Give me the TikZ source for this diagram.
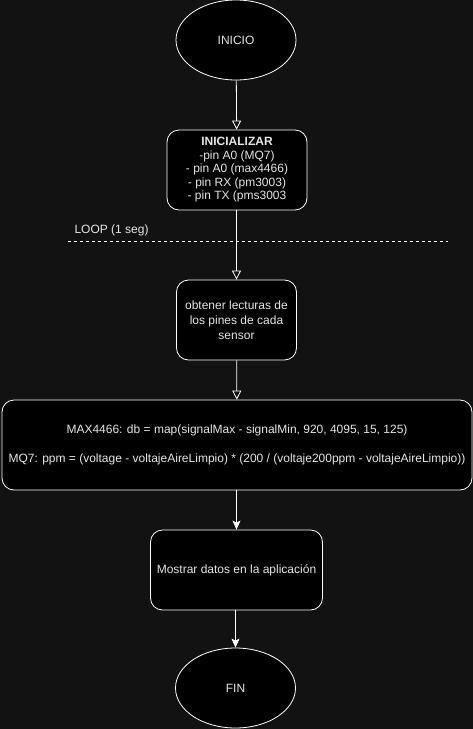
\documentclass[tikz,border=0pt]{standalone}
\usepackage{fontspec}
\setmainfont{Liberation Sans}
\usetikzlibrary{arrows.meta,shapes.geometric}
\definecolor{bg}{HTML}{121212}
\definecolor{txt}{HTML}{E6E6E6}
\begin{document}
\begin{tikzpicture}[x=1pt,y=-1pt,
  every node/.style={font=\fontsize{12}{13.5}\selectfont, text=txt},
  term/.style={ellipse, draw=white, fill=black, line width=0.8pt, minimum width=120pt, minimum height=80pt, inner sep=0pt},
  proc/.style={rectangle, rounded corners=12pt, draw=white, fill=black, line width=0.8pt, inner sep=0pt, align=center},
  openarr/.style={draw=white, line width=0.8pt, -{Triangle[open, length=9pt, width=9pt, fill=bg]}},
  fillarr/.style={draw=white, line width=0.8pt, -{Stealth[length=9pt, width=8pt, inset=2pt]}}
]
\fill[bg] (0,0) rectangle (473,729);
\useasboundingbox (0,0) rectangle (473,729);

\node[term] (inicio) at (236,40) {INICIO};
\node[proc, minimum width=140pt, minimum height=80pt] (init) at (237,170)
  {\textbf{INICIALIZAR}\\-pin A0 (MQ7)\\- pin A0 (max4466)\\- pin RX (pm3003)\\- pin TX (pms3003};
\node[anchor=base west] (loop) at (71,233) {LOOP (1 seg)};
\coordinate (dl) at (68,241);
\coordinate (dr) at (448,241);
\draw[white, dashed, line width=0.8pt, dash pattern=on 3pt off 3pt] (dl) -- (dr);
\node[proc, minimum width=120pt, minimum height=80pt, font=\fontsize{12}{15}\selectfont] (lect) at (236.5,320)
  {obtener lecturas de\\los pines de cada\\sensor};
\node[proc, minimum width=470pt, minimum height=90pt] (calc) at (237,445)
  {MAX4466: db = map(signalMax - signalMin, 920, 4095, 15, 125)\\[15pt]MQ7: ppm = (voltage - voltajeAireLimpio) * (200 / (voltaje200ppm - voltajeAireLimpio))};
\node[proc, minimum width=172pt, minimum height=80pt] (show) at (236.5,570)
  {Mostrar datos en la aplicación};
\node[term] (fin) at (235.5,688) {FIN};

\draw[openarr] (inicio) -- (init);
\draw[openarr] (init.south -| lect.north) -- (lect.north);
\draw[openarr] (lect) -- (calc);
\draw[fillarr] (calc.south -| show.north) -- (show.north);
\draw[fillarr] (show.south -| fin.north) -- (fin.north);
\end{tikzpicture}
\end{document}
